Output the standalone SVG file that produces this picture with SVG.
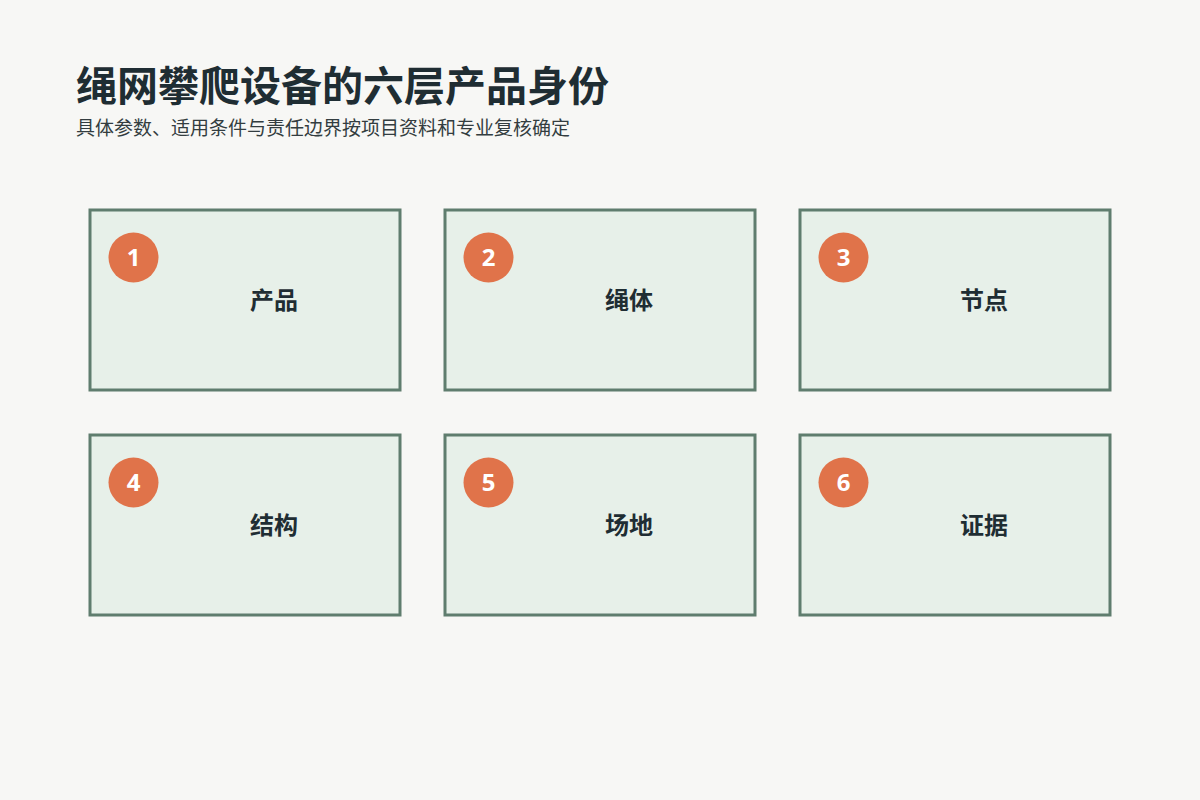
<svg xmlns="http://www.w3.org/2000/svg" width="1200" height="800" viewBox="0 0 1200 800">
<style>
.bg{fill:#f7f7f5}
.box{fill:#e7f0e9;stroke:#5f7d6e;stroke-width:3}
.badge{fill:#e0734a}
.num{font-family:"Open Sans","Noto Sans",sans-serif;font-weight:700;font-size:24px;fill:#ffffff;text-anchor:middle}
.lbl{font-family:"Noto Sans CJK SC","Noto Sans",sans-serif;font-weight:700;font-size:24px;fill:#1f2d33;text-anchor:middle}
.title{font-family:"Noto Sans CJK SC",sans-serif;font-weight:700;font-size:41px;fill:#1f2d33}
.sub{font-family:"Noto Sans CJK SC",sans-serif;font-size:19px;fill:#333d40}
</style>
<rect class="bg" x="0" y="0" width="1200" height="800"/>
<text class="title" x="76" y="101">绳网攀爬设备的六层产品身份</text>
<text class="sub" x="76" y="135">具体参数、适用条件与责任边界按项目资料和专业复核确定</text>
<g id="connectors"></g>
<g id="node1"><rect class="box" x="90" y="210" width="310" height="180"/><circle class="badge" cx="133.5" cy="257.5" r="25"/><text class="num" x="133.5" y="266">1</text><text class="lbl" x="274" y="309">产品</text></g>
<g id="node2"><rect class="box" x="445" y="210" width="310" height="180"/><circle class="badge" cx="488.5" cy="257.5" r="25"/><text class="num" x="488.5" y="266">2</text><text class="lbl" x="629" y="309">绳体</text></g>
<g id="node3"><rect class="box" x="800" y="210" width="310" height="180"/><circle class="badge" cx="843.5" cy="257.5" r="25"/><text class="num" x="843.5" y="266">3</text><text class="lbl" x="984" y="309">节点</text></g>
<g id="node4"><rect class="box" x="90" y="435" width="310" height="180"/><circle class="badge" cx="133.5" cy="482.5" r="25"/><text class="num" x="133.5" y="491">4</text><text class="lbl" x="274" y="534">结构</text></g>
<g id="node5"><rect class="box" x="445" y="435" width="310" height="180"/><circle class="badge" cx="488.5" cy="482.5" r="25"/><text class="num" x="488.5" y="491">5</text><text class="lbl" x="629" y="534">场地</text></g>
<g id="node6"><rect class="box" x="800" y="435" width="310" height="180"/><circle class="badge" cx="843.5" cy="482.5" r="25"/><text class="num" x="843.5" y="491">6</text><text class="lbl" x="984" y="534">证据</text></g>
</svg>
